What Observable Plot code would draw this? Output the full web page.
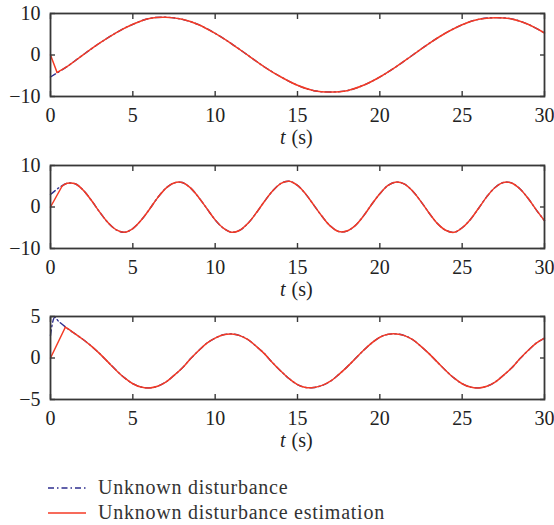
<!DOCTYPE html>
<html>
<head>
<meta charset="utf-8">
<script src="https://cdn.jsdelivr.net/npm/d3@7"></script>
<script src="https://cdn.jsdelivr.net/npm/@observablehq/plot@0.6"></script>
<style>
  body { margin: 0; background: #fff; }
  #chart { width: 554px; }
  #chart svg { display: block; }
  .legend { position: relative; width: 554px; height: 70px; font: 20px "Liberation Serif", serif; color: #333; letter-spacing: 0.75px; }
  .legend .row { position: absolute; left: 0; height: 20px; }
  .legend svg { position: absolute; left: 48px; top: 5px; }
  .legend span { position: absolute; left: 98px; top: -2px; white-space: nowrap; line-height: 22px; }
</style>
</head>
<body>
<div id="chart"></div>
<script>
// ---- Panel 1: slow disturbance (period ~20 s) ----
const time1 = [0, 1, 2, 3, 4, 5, 6, 7, 8, 9, 10, 11, 12, 13, 14, 15, 16, 17, 18, 19, 20,
  21, 22, 23, 24, 25, 26, 27, 28, 29, 30];
const dist1 = [-5.3, -2.8, 0.1, 2.9, 5.4, 7.4, 8.8, 9.1, 8.6, 7.3, 5.2, 2.7, -0.1, -2.9, -5.3,
  -7.3, -8.6, -8.9, -8.6, -7.3, -5.3, -2.8, 0.0, 2.8, 5.3, 7.3, 8.6, 9.0, 8.7, 7.4, 5.3];
const est1LeadTime = [0, 0.4];
const est1Lead = [0, -4.2];

// ---- Panel 2: faster disturbance (period ~6.6 s) ----
const time2 = [0, 0.5, 1, 1.5, 2, 2.5, 3, 3.5, 4, 4.5, 5, 5.5, 6, 6.5, 7, 7.5, 8, 8.5, 9, 9.5,
  10, 10.5, 11, 11.5, 12, 12.5, 13, 13.5, 14, 14.5, 15, 15.5, 16, 16.5, 17, 17.5, 18, 18.5, 19, 19.5,
  20, 20.5, 21, 21.5, 22, 22.5, 23, 23.5, 24, 24.5, 25, 25.5, 26, 26.5, 27, 27.5, 28, 28.5, 29, 29.5, 30];
const dist2 = [3.0, 4.6, 5.7, 5.6, 4.0, 1.5, -1.3, -3.8, -5.5, -6.1, -5.2, -3.2, -0.6, 2.2, 4.5,
  5.8, 5.9, 4.6, 2.3, -0.4, -3.1, -5.1, -6.1, -5.6, -3.9, -1.4, 1.4, 3.9, 5.7, 6.2, 5.2, 3.1, 0.4,
  -2.3, -4.6, -5.9, -5.8, -4.5, -2.2, 0.6, 3.2, 5.2, 6.0, 5.5, 3.8, 1.3, -1.5, -4.0, -5.6, -6.1,
  -5.0, -3.0, -0.3, 2.5, 4.7, 5.9, 5.8, 4.4, 2.1, -0.7, -3.3];
const est2LeadTime = [0, 0.7];
const est2Lead = [0, 5.0];

// ---- Panel 3: offset disturbance (period ~10 s) ----
const time3 = [0, 0.25, 0.5, 1, 1.5, 2, 2.5, 3, 3.5, 4, 4.5, 5, 5.5, 6, 6.5, 7, 7.5, 8, 8.5, 9, 9.5,
  10, 10.5, 11, 11.5, 12, 12.5, 13, 13.5, 14, 14.5, 15, 15.5, 16, 16.5, 17, 17.5, 18, 18.5, 19, 19.5,
  20, 20.5, 21, 21.5, 22, 22.5, 23, 23.5, 24, 24.5, 25, 25.5, 26, 26.5, 27, 27.5, 28, 28.5, 29, 29.5, 30];
const dist3 = [2.7, 4.9, 4.4, 3.6, 2.9, 2.2, 1.4, 0.5, -0.5, -1.5, -2.4, -3.1, -3.5, -3.6, -3.4,
  -2.9, -2.1, -1.2, -0.1, 0.9, 1.8, 2.4, 2.8, 2.9, 2.7, 2.2, 1.4, 0.5, -0.6, -1.6, -2.5, -3.2,
  -3.55, -3.55, -3.3, -2.8, -2.0, -1.1, -0.1, 0.9, 1.8, 2.5, 2.85, 2.9, 2.7, 2.2, 1.4, 0.5, -0.5,
  -1.5, -2.4, -3.1, -3.5, -3.6, -3.4, -2.9, -2.1, -1.2, -0.1, 0.9, 1.8, 2.4];
const est3LeadTime = [0, 0.9];
const est3Lead = [0, 3.7];

// ---- Axes ----
const xTicks = [0, 5, 10, 15, 20, 25, 30];
const yTicks1 = [-10, 0, 10];
const yTicks2 = [-10, 0, 10];
const yTicks3 = [-5, 0, 5];

const seriesLabels = ["Unknown disturbance", "Unknown disturbance estimation"];
const blue = "#2e2e8f";
const red = "#f43a24";
const frameColor = "#383838";
const textColor = "#222";
const font = "Liberation Serif";
const fontSize = 20;

function zip(t, v) { return t.map((ti, i) => ({t: ti, v: v[i]})); }

function panel({time, dist, leadTime, lead, yDomain, yTicks, height}) {
  const d = zip(time, dist);
  const leadPts = zip(leadTime, lead);
  const joinT = leadTime[leadTime.length - 1];
  const tail = [leadPts[leadPts.length - 1], ...d.filter(p => p.t > joinT)];
  const frameH = 83;
  const noText = () => "";
  return Plot.plot({
    width: 554,
    height,
    marginTop: 13,
    marginBottom: height - 13 - frameH,
    marginLeft: 50,
    marginRight: 10,
    x: {domain: [0, 30]},
    y: {domain: yDomain},
    style: {fontFamily: font, fontSize: fontSize + "px", color: textColor, background: "#fff", overflow: "visible"},
    marks: [
      Plot.line(d, {x: "t", y: "v", stroke: blue, strokeWidth: 1.4, strokeDasharray: "6,3,1.5,3", curve: "catmull-rom"}),
      Plot.line(leadPts, {x: "t", y: "v", stroke: red, strokeWidth: 1.5}),
      Plot.line(tail, {x: "t", y: "v", stroke: red, strokeWidth: 1.5, curve: "catmull-rom"}),
      Plot.frame({stroke: frameColor, strokeWidth: 1.8}),
      // inward ticks on all four sides; labels only at bottom and left
      Plot.axisX(xTicks, {anchor: "bottom", tickSize: -5, tickPadding: 16, label: null, stroke: frameColor, strokeWidth: 1.4, fill: textColor, fontSize}),
      Plot.axisX(xTicks, {anchor: "top", tickSize: -5, tickFormat: noText, label: null, stroke: frameColor, strokeWidth: 1.4}),
      Plot.axisY(yTicks, {anchor: "left", tickSize: -5, tickPadding: 15, label: null, stroke: frameColor, strokeWidth: 1.4, fill: textColor, fontSize}),
      Plot.axisY(yTicks, {anchor: "right", tickSize: -5, tickFormat: noText, label: null, stroke: frameColor, strokeWidth: 1.4}),
      // axis title "t (s)" with an italic variable name
      Plot.text(["t"], {frameAnchor: "bottom", dy: 47, dx: -12, textAnchor: "end", fontStyle: "italic", fill: textColor, fontSize}),
      Plot.text(["(s)"], {frameAnchor: "bottom", dy: 47, dx: -6, textAnchor: "start", fill: textColor, fontSize})
    ]
  });
}

const chart = document.getElementById("chart");
chart.append(panel({time: time1, dist: dist1, leadTime: est1LeadTime, lead: est1Lead, yDomain: [-10, 10], yTicks: yTicks1, height: 152}));
chart.append(panel({time: time2, dist: dist2, leadTime: est2LeadTime, lead: est2Lead, yDomain: [-10, 10], yTicks: yTicks2, height: 151}));
chart.append(panel({time: time3, dist: dist3, leadTime: est3LeadTime, lead: est3Lead, yDomain: [-5, 5], yTicks: yTicks3, height: 152}));

// Legend below the three panels
const legend = document.createElement("div");
legend.className = "legend";
const styles = [{stroke: blue, dash: "6,3,1.5,3"}, {stroke: red, dash: null}];
seriesLabels.forEach((label, i) => {
  const row = document.createElement("div");
  row.className = "row";
  row.style.top = (23 + i * 25) + "px";
  const ns = "http://www.w3.org/2000/svg";
  const svg = document.createElementNS(ns, "svg");
  svg.setAttribute("width", 38);
  svg.setAttribute("height", 10);
  const line = document.createElementNS(ns, "line");
  line.setAttribute("x1", 0); line.setAttribute("x2", 38);
  line.setAttribute("y1", 5); line.setAttribute("y2", 5);
  line.setAttribute("stroke", styles[i].stroke);
  line.setAttribute("stroke-width", 1.5);
  if (styles[i].dash) line.setAttribute("stroke-dasharray", styles[i].dash);
  svg.append(line);
  const span = document.createElement("span");
  span.textContent = label;
  row.append(svg, span);
  legend.append(row);
});
chart.append(legend);
</script>
</body>
</html>
